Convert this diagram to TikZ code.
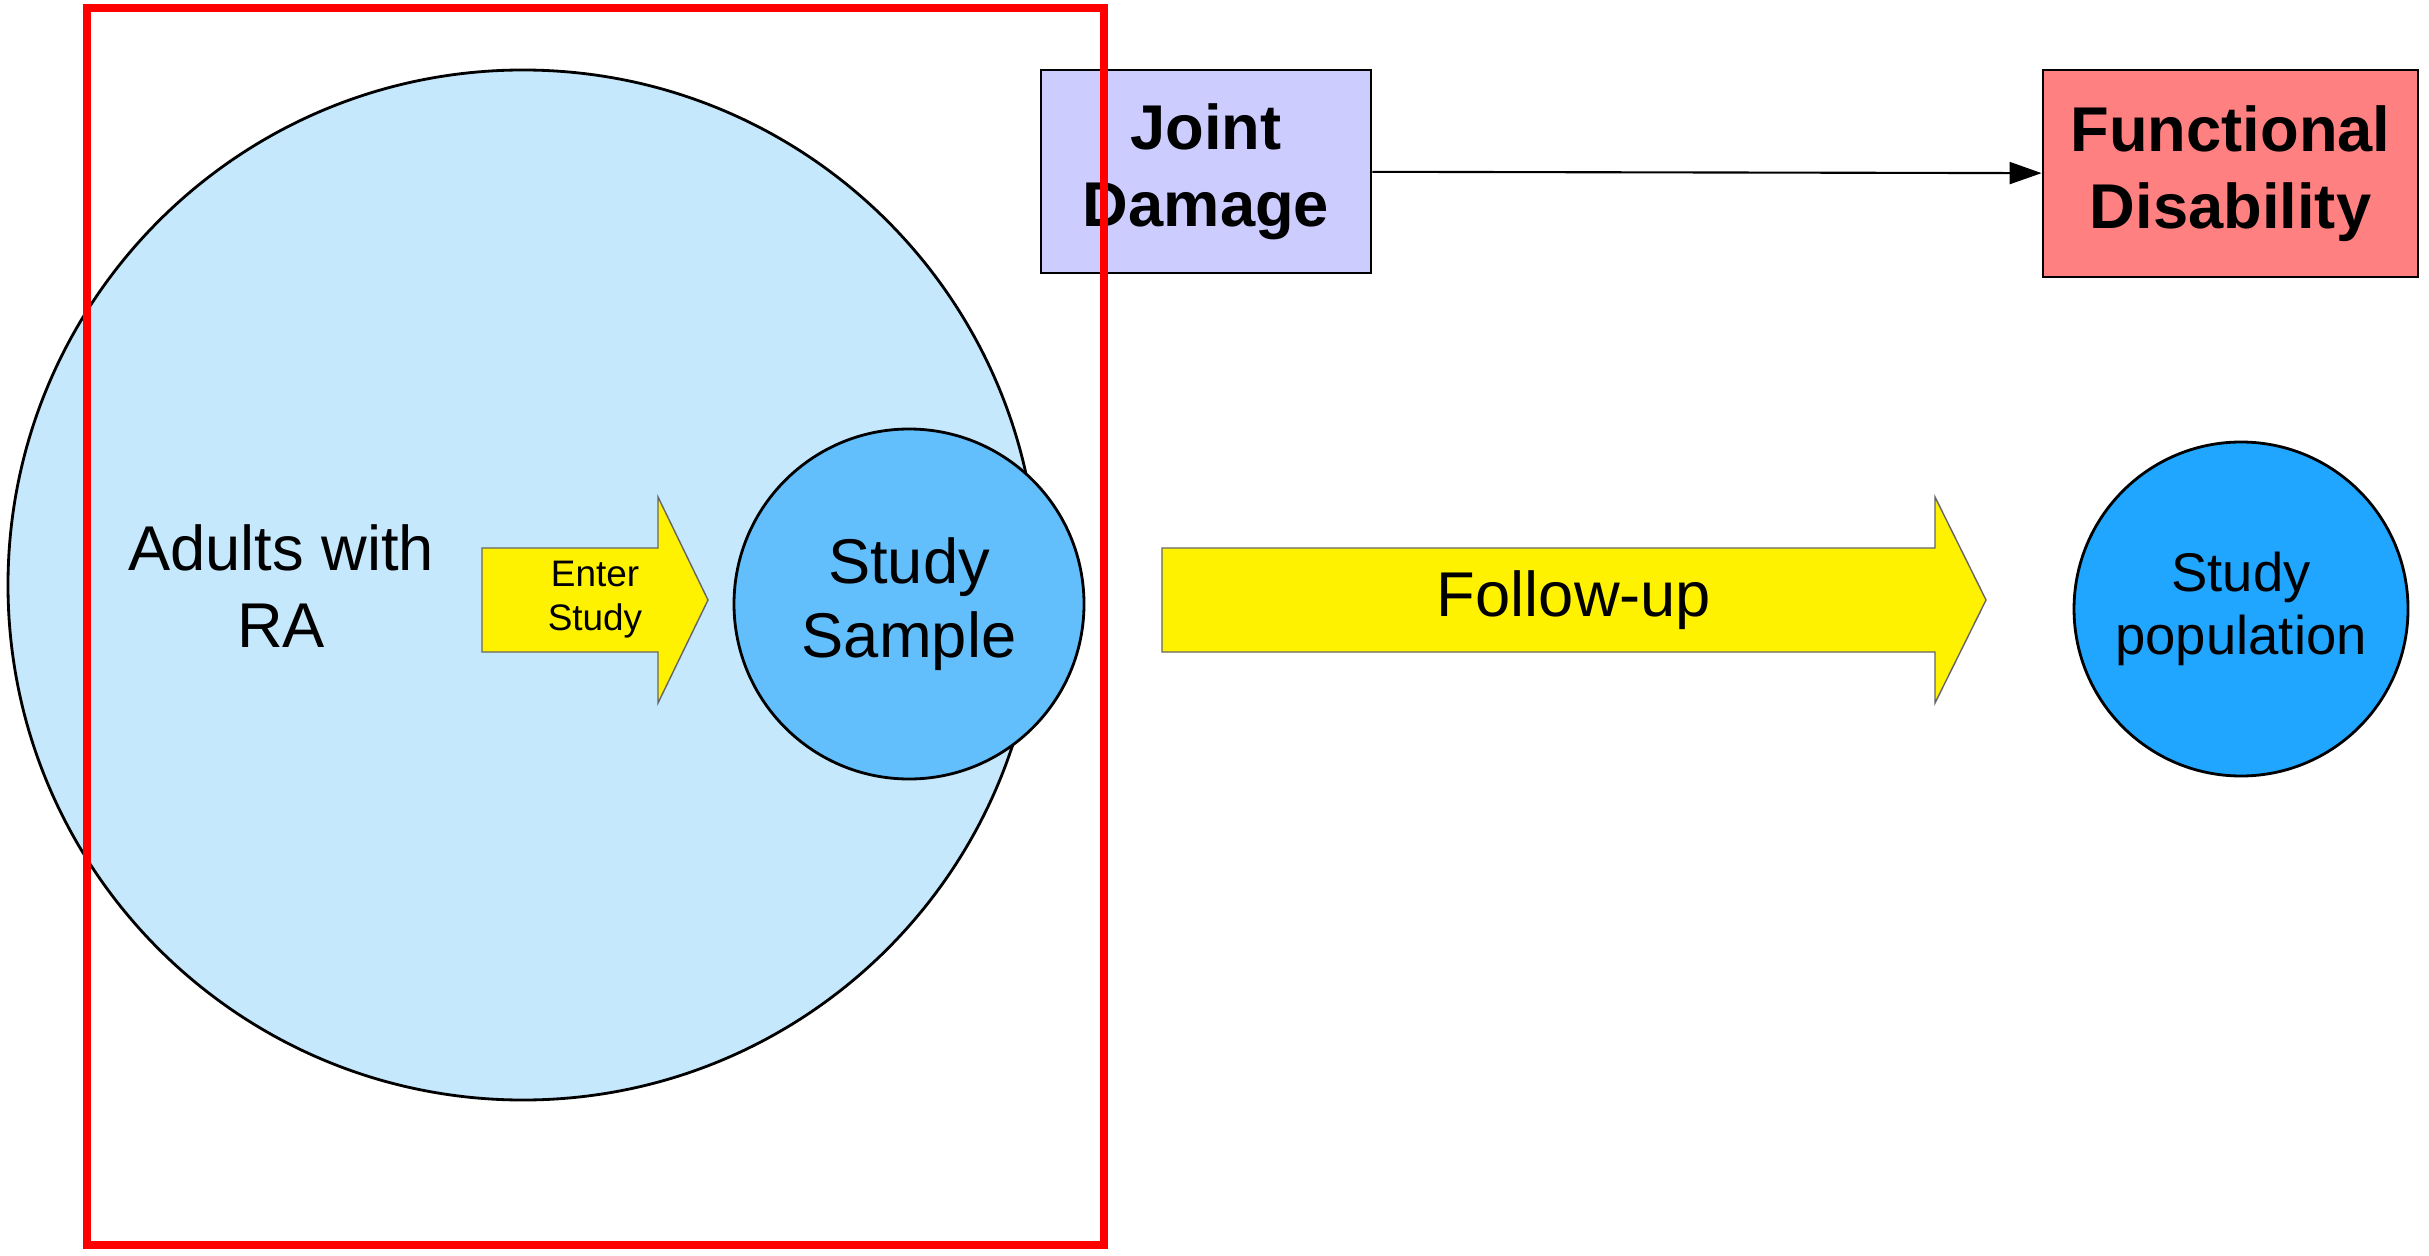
\documentclass[tikz,border=0pt]{standalone}
\usepackage{fontspec}
\setmainfont{Liberation Sans}
\usepackage{tikz}
\usetikzlibrary{arrows.meta}

\definecolor{raBlue}{RGB}{198,232,252}
\definecolor{sampleBlue}{RGB}{99,191,252}
\definecolor{popBlue}{RGB}{33,166,255}
\definecolor{jointBlue}{RGB}{204,204,255}
\definecolor{disabRed}{RGB}{255,128,128}

\begin{document}
\begin{tikzpicture}[
    every node/.style={align=center, inner sep=0pt},
    popcircle/.style={circle, draw, thick},
    factorbox/.style={draw, thick, font=\fontsize{18}{22}\selectfont\bfseries},
    fatarrow/.style={draw=black!60, line width=0.4pt, fill=yellow}
]
    \useasboundingbox (0,0) rectangle (24.29,12.55);

    % Adults with RA (big circle)
    \node[popcircle, fill=raBlue, minimum size=10.3cm] (ra) at (5.23,6.70) {};
    \node[font=\fontsize{18}{22}\selectfont] (adults) at (2.81,6.69) {Adults with\\RA};

    % Enter study arrow
    \draw[fatarrow] (4.82,6.03) -- (6.58,6.03) -- (6.58,5.52) -- (7.08,6.55)
        -- (6.58,7.58) -- (6.58,7.07) -- (4.82,7.07) -- cycle;
    \node[font=\fontsize{10.5}{12.5}\selectfont] (enter) at (5.95,6.55) {Enter\\Study};

    % Study sample
    \node[popcircle, fill=sampleBlue, minimum size=3.5cm,
          font=\fontsize{18}{21}\selectfont] (sample) at (9.09,6.51) {Study\\Sample};

    % Follow-up arrow
    \draw[fatarrow] (11.62,6.03) -- (19.35,6.03) -- (19.35,5.52) -- (19.86,6.55)
        -- (19.35,7.58) -- (19.35,7.07) -- (11.62,7.07) -- cycle;
    \node[font=\fontsize{18}{22}\selectfont] (followup) at (15.74,6.55) {Follow-up};

    % Study population
    \node[popcircle, fill=popBlue, minimum size=3.34cm,
          font=\fontsize{15.5}{18}\selectfont] (studypop) at (22.41,6.46) {Study\\population};

    % Joint damage -> functional disability
    \node[factorbox, fill=jointBlue, minimum width=3.30cm, minimum height=2.03cm] (joint) at (12.06,10.835) {Joint\\Damage};
    \node[factorbox, fill=disabRed, minimum width=3.75cm, minimum height=2.07cm] (disab) at (22.305,10.815) {Functional\\Disability};
    \draw[-{Triangle[length=0.32cm, width=0.22cm]}, semithick] (joint) -- (disab);

    % Red frame
    \draw[red, line width=2.2pt] (0.87,0.10) rectangle (11.04,12.47);
\end{tikzpicture}
\end{document}
